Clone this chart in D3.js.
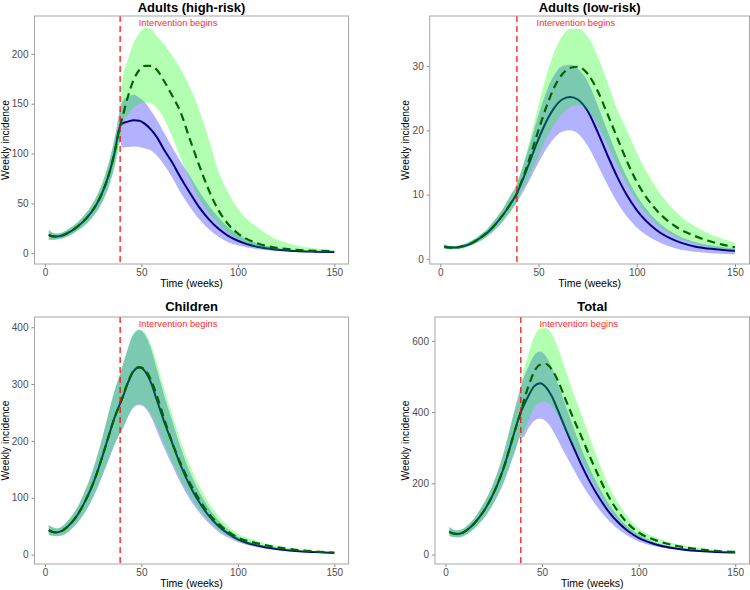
<!DOCTYPE html>
<html>
<head>
<meta charset="utf-8">
<script src="https://cdn.jsdelivr.net/npm/d3@7"></script>
<style>
  body { margin: 0; background: #ffffff; }
  svg { display: block; }
  text { font-family: "Liberation Sans", Arial, Helvetica, sans-serif; }
</style>
</head>
<body>
<svg id="chart" width="750" height="590"></svg>
<script>
// ---------------- DATA ----------------
const panelTitles = ["Adults (high-risk)", "Adults (low-risk)", "Children", "Total"];
const xTicks = [0, 50, 100, 150];
const interventionWeek = 39;
const interventionLabel = "Intervention begins";
const xAxisTitle = "Time (weeks)";
const yAxisTitle = "Weekly incidence";

const preWeeks  = [2, 4, 6, 9, 12, 15, 18, 21, 24, 27, 30, 33, 36, 39];
const postWeeks = [40, 43, 46, 49, 52, 55, 58, 62, 66, 70, 75, 80, 85, 90, 95, 100, 110, 120, 130, 140, 150];

// Adults (high-risk)
const hrPreMean = [18.5, 17, 16.8, 17.8, 20.5, 24, 28.5, 34, 41, 50, 62, 78, 100, 128];
const hrPreLo   = [13.5, 13.5, 13.8, 14.8, 17, 20, 24, 28.5, 34.5, 42, 52.5, 66.5, 86, 112];
const hrPreHi   = [23.5, 20.5, 19.8, 20.8, 24, 28, 33, 39.5, 47.5, 58, 71.5, 90, 114, 145];
const hrIntMean = [130, 132, 133.5, 133, 129.5, 124, 116.5, 103, 91, 77, 61, 46, 34, 24.5, 17.5, 12.5, 6.5, 3.8, 2.3, 1.6, 1.2];
const hrIntLo   = [106, 106.5, 107, 106.5, 105, 103, 98, 88, 76, 62, 47, 34, 24, 16.5, 11, 8, 4, 2.2, 1.3, 0.8, 0.5];
const hrIntHi   = [152, 157, 159, 156, 151, 143, 134, 120, 106, 93, 78, 62, 48, 36, 26, 19, 10, 5.5, 3, 2, 1.4];
const hrNoMean  = [135, 157, 174, 184, 188, 188, 184, 172, 158, 143, 115, 88, 63, 43, 29, 20, 10, 5.5, 3.5, 2.5, 2];
const hrNoLo    = [128, 139, 146, 150, 151, 150.5, 146, 134, 117, 97, 75, 55, 40, 29, 20, 14, 6, 3.2, 2, 1.3, 1];
const hrNoHi    = [172, 194, 211, 221, 226, 225, 218, 209, 198, 186, 167, 144, 114, 82, 61, 45, 26, 14, 8, 5, 3];

// Adults (low-risk)
const lrPreMean = [1.9, 1.8, 1.75, 1.8, 2.0, 2.3, 2.8, 3.4, 4.1, 5.0, 6.1, 7.3, 8.7, 10.2];
const lrPreLo   = [1.55, 1.55, 1.5, 1.55, 1.7, 2.0, 2.4, 2.9, 3.5, 4.3, 5.2, 6.3, 7.5, 8.8];
const lrPreHi   = [2.3, 2.05, 2.0, 2.05, 2.3, 2.7, 3.2, 3.9, 4.7, 5.8, 7.0, 8.4, 10.0, 11.7];
const lrIntMean = [10.9, 13.1, 15.5, 17.9, 20.1, 22.0, 23.5, 24.8, 25.2, 24.8, 23.0, 19.8, 16.2, 12.8, 9.9, 7.6, 4.5, 2.8, 1.9, 1.5, 1.25];
const lrIntLo   = [9.3, 10.9, 12.6, 14.4, 16.1, 17.6, 18.8, 19.8, 20.0, 19.5, 17.6, 14.7, 11.6, 8.8, 6.6, 4.9, 2.8, 1.6, 1.1, 0.85, 0.7];
const lrIntHi   = [12.5, 15.3, 18.3, 21.4, 24.3, 26.8, 28.6, 30.0, 30.2, 29.6, 27.6, 24.0, 20.0, 16.1, 12.7, 9.9, 6.0, 3.8, 2.6, 2.0, 1.6];
const lrNoMean  = [11.0, 13.4, 16.2, 19.1, 21.9, 24.5, 26.7, 28.7, 29.7, 29.9, 28.8, 26.2, 22.6, 18.9, 15.2, 12.0, 7.6, 5.0, 3.5, 2.5, 1.8];
const lrNoLo    = [9.6, 11.4, 13.4, 15.4, 17.5, 19.3, 20.9, 22.5, 23.6, 23.9, 23.1, 20.9, 17.8, 14.6, 11.6, 9.0, 5.4, 3.4, 2.3, 1.7, 1.3];
const lrNoHi    = [12.6, 15.6, 19.0, 22.7, 26.3, 29.5, 32.2, 34.6, 35.8, 35.8, 34.6, 31.6, 27.6, 23.3, 20.0, 16.5, 11.0, 7.3, 5.0, 3.5, 2.5];

// Children
const chPreMean = [43, 40, 39, 42, 50, 61, 76, 95, 117, 144, 175, 208, 240, 266];
const chPreLo   = [34, 33, 32.5, 34, 40, 49, 61, 76, 94, 116, 141, 167, 193, 214];
const chPreHi   = [52, 48, 46, 50, 60, 73, 91, 114, 140, 172, 209, 249, 287, 318];
const chIntMean = [274, 302, 323, 329, 322, 302, 272, 232, 196, 160, 122, 92, 68, 50, 37, 27, 16, 10, 6.5, 4.5, 3];
const chIntLo   = [219, 242, 259, 263, 258, 242, 218, 186, 157, 128, 98, 74, 55, 40, 30, 22, 13, 8, 5.2, 3.6, 2.4];
const chIntHi   = [329, 362, 388, 395, 386, 362, 326, 278, 235, 192, 146, 110, 82, 60, 44, 32, 19, 12, 7.8, 5.4, 3.6];
const chNoMean  = [275, 303, 324, 330, 325, 307, 280, 237, 197, 163, 127, 97, 72, 54, 40, 30, 20, 13, 8.5, 5.5, 3.5];
const chNoLo    = [220, 243, 260, 265, 261, 247, 226, 193, 163, 135, 104, 79, 59, 44, 33, 25, 16, 10.5, 6.8, 4.4, 2.8];
const chNoHi    = [330, 363, 389, 396, 390, 369, 337, 289, 246, 204, 158, 121, 91, 68, 50, 37, 24, 15.5, 10.2, 6.6, 4.2];

// Total
const totPreMean = [63.5, 59, 57.5, 61.5, 72.5, 88, 108, 132, 162, 198, 241, 294, 349, 400];
const totPreLo   = [52, 49.5, 48, 51, 60, 73, 90, 110, 135, 165, 200, 244, 290, 332];
const totPreHi   = [78, 70, 68, 72, 85, 103, 127, 155, 190, 232, 283, 345, 410, 470];
const totIntMean = [412, 446, 473, 481, 470, 445, 408, 355, 305, 256, 202, 156, 117, 87, 64, 47, 27, 16.5, 10.5, 7.5, 5.5];
const totIntLo   = [328, 355, 376, 382, 374, 354, 324, 282, 242, 204, 161, 124, 93, 69, 51, 37, 21.5, 13, 8.3, 6, 4.4];
const totIntHi   = [488, 528, 560, 570, 557, 527, 483, 421, 361, 303, 239, 185, 139, 103, 76, 56, 32, 20, 12.5, 9, 6.5];
const totNoMean  = [421, 473, 514, 533, 535, 520, 491, 438, 385, 336, 272, 212, 158, 116, 84, 62, 38, 24, 15.5, 10.5, 7.3];
const totNoLo    = [337, 378, 411, 426, 428, 416, 393, 350, 308, 269, 218, 170, 126, 92, 66, 49, 30, 19, 12.3, 8.2, 5.7];
const totNoHi    = [501, 563, 612, 634, 636, 619, 584, 521, 458, 400, 324, 252, 188, 139, 101, 74, 46, 29, 19, 13, 9];

const yTicksHR  = [0, 50, 100, 150, 200];
const yTicksLR  = [0, 10, 20, 30];
const yTicksCH  = [0, 100, 200, 300, 400];
const yTicksTOT = [0, 200, 400, 600];

// ---------------- LAYOUT ----------------
const xDomain = [-5.4, 157.4];
const panels = [
  { title: panelTitles[0], pre: [hrPreMean, hrPreLo, hrPreHi],
    int: [hrIntMean, hrIntLo, hrIntHi], no: [hrNoMean, hrNoLo, hrNoHi],
    yTicks: yTicksHR, yDom: [-10.8, 238], f: { l: 34.5, r: 348.6, t: 16, b: 264 }, ylabX: 8.5, titleY: 11.8 },
  { title: panelTitles[1], pre: [lrPreMean, lrPreLo, lrPreHi],
    int: [lrIntMean, lrIntLo, lrIntHi], no: [lrNoMean, lrNoLo, lrNoHi],
    yTicks: yTicksLR, yDom: [-0.8, 37.8], f: { l: 429.7, r: 749.5, t: 16, b: 264 }, ylabX: 409, titleY: 11.8 },
  { title: panelTitles[2], pre: [chPreMean, chPreLo, chPreHi],
    int: [chIntMean, chIntLo, chIntHi], no: [chNoMean, chNoLo, chNoHi],
    yTicks: yTicksCH, yDom: [-16.5, 418], f: { l: 34.5, r: 348.6, t: 317, b: 564 }, ylabX: 8.5, titleY: 310.5 },
  { title: panelTitles[3], pre: [totPreMean, totPreLo, totPreHi],
    int: [totIntMean, totIntLo, totIntHi], no: [totNoMean, totNoLo, totNoHi],
    yTicks: yTicksTOT, yDom: [-26.5, 667], f: { l: 435, r: 749.5, t: 317, b: 564 }, ylabX: 408.5, titleY: 310.5 }
];

const svg = d3.select("#chart");
const weeks = preWeeks.concat(postWeeks);

function rows(pre, post) {
  const m = pre[0].concat(post[0]), lo = pre[1].concat(post[1]), hi = pre[2].concat(post[2]);
  return weeks.map((w, i) => ({ w: w, m: m[i], lo: lo[i], hi: hi[i] }));
}

panels.forEach(p => {
  const f = p.f;
  const g = svg.append("g");
  const x = d3.scaleLinear().domain(xDomain).range([f.l, f.r]);
  const y = d3.scaleLinear().domain(p.yDom).range([f.b, f.t]);

  const area = d3.area().x(d => x(d.w)).y0(d => y(d.lo)).y1(d => y(d.hi)).curve(d3.curveMonotoneX);
  const line = d3.line().x(d => x(d.w)).y(d => y(d.m)).curve(d3.curveMonotoneX);

  const intRows = rows(p.pre, p.int);
  const noRows = rows(p.pre, p.no);

  g.append("path").datum(intRows).attr("d", area)
    .attr("fill", "#0000ff").attr("fill-opacity", 0.3);
  g.append("path").datum(intRows).attr("d", line)
    .attr("fill", "none").attr("stroke", "#000080").attr("stroke-width", 2);
  g.append("path").datum(noRows).attr("d", area)
    .attr("fill", "#00ff00").attr("fill-opacity", 0.3);
  g.append("path").datum(noRows).attr("d", line)
    .attr("fill", "none").attr("stroke", "#006400").attr("stroke-width", 2.2)
    .attr("stroke-dasharray", "8,5");

  // intervention line
  g.append("line")
    .attr("x1", x(interventionWeek)).attr("x2", x(interventionWeek))
    .attr("y1", f.t).attr("y2", f.b)
    .attr("stroke", "#ff0000").attr("stroke-opacity", 0.8)
    .attr("stroke-width", 1.5).attr("stroke-dasharray", "6,4");
  g.append("text")
    .attr("x", x(69)).attr("y", f.t + 9.5)
    .attr("text-anchor", "middle").attr("font-size", "9.3px")
    .attr("fill", "#ff2a2a").text(interventionLabel);

  // axes
  const xAxis = g.append("g").attr("transform", `translate(0,${f.b})`)
    .call(d3.axisBottom(x).tickValues(xTicks).tickSize(3).tickPadding(2).tickSizeOuter(0));
  const yAxis = g.append("g").attr("transform", `translate(${f.l},0)`)
    .call(d3.axisLeft(y).tickValues(p.yTicks).tickSize(3).tickPadding(3).tickSizeOuter(0));
  [xAxis, yAxis].forEach(a => {
    a.select(".domain").remove();
    a.selectAll(".tick line").attr("stroke", "#8c8c8c");
    a.selectAll(".tick text").attr("fill", "#4d4d4d").attr("font-size", "10px")
      .attr("font-family", "'Liberation Sans', Arial, sans-serif");
  });

  // border
  g.append("rect").attr("x", f.l).attr("y", f.t)
    .attr("width", f.r - f.l).attr("height", f.b - f.t)
    .attr("fill", "none").attr("stroke", "#a6a6a6").attr("stroke-width", 1);

  // titles
  const cx = (f.l + f.r) / 2;
  g.append("text").attr("x", cx).attr("y", p.titleY)
    .attr("text-anchor", "middle").attr("font-size", "13px").attr("font-weight", "bold")
    .attr("fill", "#000").text(p.title);
  g.append("text").attr("x", cx).attr("y", f.b + 23)
    .attr("text-anchor", "middle").attr("font-size", "10.5px")
    .attr("fill", "#000").text(xAxisTitle);
  g.append("text")
    .attr("transform", `translate(${p.ylabX},${(f.t + f.b) / 2}) rotate(-90)`)
    .attr("text-anchor", "middle").attr("font-size", "10.3px")
    .attr("fill", "#000").text(yAxisTitle);
});
</script>
</body>
</html>
